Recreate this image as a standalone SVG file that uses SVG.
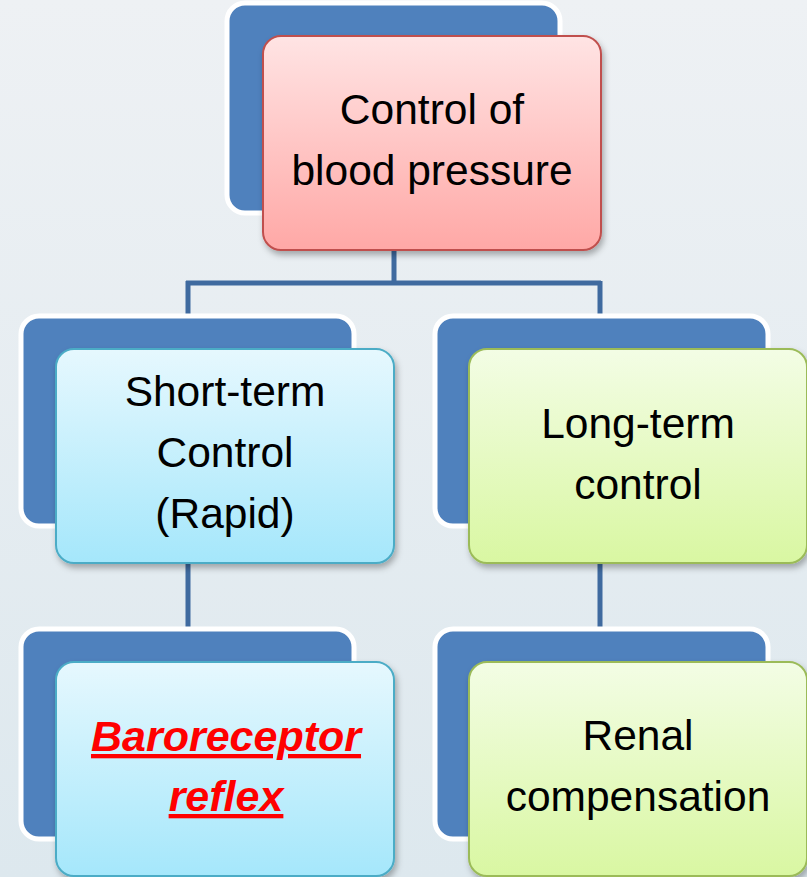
<svg xmlns="http://www.w3.org/2000/svg" width="807" height="877" viewBox="0 0 807 877">
<defs>
<linearGradient id="bg" x1="0" y1="0" x2="0" y2="1"><stop offset="0" stop-color="#eef1f4"/><stop offset="1" stop-color="#dde8ee"/></linearGradient>
<linearGradient id="pink" x1="0" y1="0" x2="0" y2="1"><stop offset="0" stop-color="#ffe4e4"/><stop offset="1" stop-color="#ffa8a6"/></linearGradient>
<linearGradient id="cyan" x1="0" y1="0" x2="0" y2="1"><stop offset="0" stop-color="#e6f8fe"/><stop offset="1" stop-color="#a5e7fb"/></linearGradient>
<linearGradient id="green" x1="0" y1="0" x2="0" y2="1"><stop offset="0" stop-color="#f3fde5"/><stop offset="1" stop-color="#d9f7a2"/></linearGradient>
<filter id="sh" x="-10%" y="-10%" width="125%" height="125%"><feDropShadow dx="2" dy="4" stdDeviation="3" flood-color="#000" flood-opacity="0.3"/></filter>
</defs>
<style>
.back{fill:#4f81bd;stroke:#ffffff;stroke-width:5}
.pk{fill:url(#pink);stroke:#c0504d;stroke-width:2;filter:url(#sh)}
.cy{fill:url(#cyan);stroke:#4bacc6;stroke-width:2;filter:url(#sh)}
.gr{fill:url(#green);stroke:#9bbb59;stroke-width:2;filter:url(#sh)}
.t{font-family:"Liberation Sans",Arial,sans-serif;font-size:42.5px;fill:#000;text-anchor:middle}
.r{font-family:"Liberation Sans",Arial,sans-serif;font-size:43px;fill:#ff0000;font-weight:bold;font-style:italic;text-decoration:underline;text-anchor:middle}
.c{fill:none;stroke:#3f6a9f;stroke-width:5}
</style>
<rect width="807" height="877" fill="url(#bg)"/>
<g id="connectors">
<path class="c" d="M394 250V283M186 283H601M188 281V318M600 281V318M188 563V631M600 563V631"/>
</g>
<g id="top">
<rect class="back" x="227" y="3" width="333" height="210" rx="18"/>
<rect class="pk" x="263" y="36" width="338" height="214" rx="18"/>
<text class="t" x="432" y="124">Control of</text>
<text class="t" x="432" y="185">blood pressure</text>
</g>
<g id="short">
<rect class="back" x="21" y="316" width="333" height="210" rx="18"/>
<rect class="cy" x="56" y="349" width="338" height="214" rx="18"/>
<text class="t" x="225" y="406">Short-term</text>
<text class="t" x="225" y="467">Control</text>
<text class="t" x="225" y="528">(Rapid)</text>
</g>
<g id="long">
<rect class="back" x="435" y="316" width="333" height="210" rx="18"/>
<rect class="gr" x="469" y="349" width="338" height="214" rx="18"/>
<text class="t" x="638" y="438">Long-term</text>
<text class="t" x="638" y="499">control</text>
</g>
<g id="baro">
<rect class="back" x="21" y="629" width="333" height="210" rx="18"/>
<rect class="cy" x="56" y="662" width="338" height="214" rx="18"/>
<text class="r" x="226" y="751">Baroreceptor</text>
<text class="r" x="226" y="811">reflex</text>
</g>
<g id="renal">
<rect class="back" x="435" y="629" width="333" height="210" rx="18"/>
<rect class="gr" x="469" y="662" width="338" height="214" rx="18"/>
<text class="t" x="638" y="750">Renal</text>
<text class="t" x="638" y="811">compensation</text>
</g>
</svg>
